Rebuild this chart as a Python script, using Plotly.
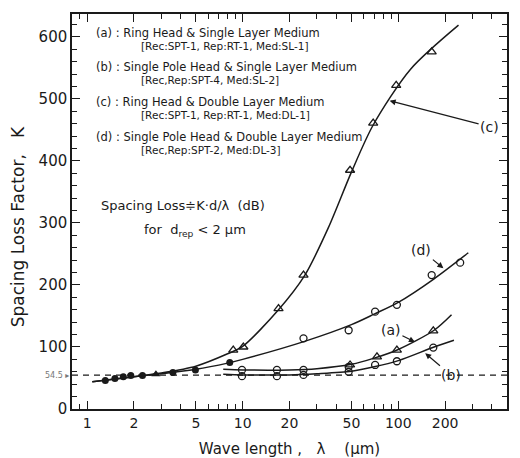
import plotly.graph_objects as go
import numpy as np

# ---- data ----
# common points (filled) at short wavelengths
common_lam = [1.31, 1.51, 1.71, 1.91, 2.27, 3.56, 4.97, 8.26]
common_K = [46, 49, 52, 54, 54, 59, 63, 75]
common_tri_lam = [2.77]
common_tri_K = [56]

# (c) ring head & double layer: triangles
c_lam = [8.7, 10.1, 17.0, 24.6, 49, 69, 97, 164]
c_K = [95, 100, 162, 216, 385, 461, 522, 576]
# (c) fitted curve
c_curve_lam = [1.08, 2, 3, 5, 8, 10, 17, 25, 35.5, 50, 69, 120, 244]
c_curve_K = [44, 52, 58, 69, 89, 101, 160, 215, 292, 382, 458, 548, 619]

# (d) single pole head & double layer: open circles
d_lam = [24.6, 48, 71, 98, 164, 250]
d_K = [114, 127, 157, 168, 216, 236]
d_curve_lam = [1.08, 2, 3, 5, 8, 10, 25, 50, 70, 100, 170, 282]
d_curve_K = [44, 52, 57, 64, 74, 80, 109, 136, 153, 172, 210, 252]

# (a) ring head & single layer: circles (low) + triangles
a_circ_lam = [9.9, 16.6, 24.6, 48]
a_circ_K = [63, 63, 63, 68]
a_tri_lam = [49, 73, 98, 168]
a_tri_K = [71, 84, 95, 126]
a_curve_lam = [7.5, 10, 20, 30, 50, 70, 100, 170, 220]
a_curve_K = [64, 63, 63, 65, 72, 82, 96, 127, 152]

# (b) single pole head & single layer: circles
b_lam = [9.9, 16.6, 24.6, 48, 71, 98, 168]
b_K = [53, 53, 55, 60, 71, 77, 99]
b_curve_lam = [7.5, 10, 20, 30, 50, 70, 100, 170, 228]
b_curve_K = [56, 55, 55, 57, 61, 68, 78, 100, 111]

ref_K = 54.5

x_ticks = [1, 2, 5, 10, 20, 50, 100, 200, 500]
x_minor = [0.9, 3, 4, 6, 7, 8, 9, 30, 40, 60, 70, 80, 90, 300, 400]
y_ticks = [0, 100, 200, 300, 400, 500, 600]

FONT = "DejaVu Sans"
INK = "#1a1a1a"

fig = go.Figure()

line = dict(color=INK, width=1.5)

def curve(xs, ys, dash=None):
    l = dict(line)
    if dash:
        l["dash"] = dash
    fig.add_trace(go.Scatter(x=xs, y=ys, mode="lines", line=dict(**l, shape="spline", smoothing=0.8),
                             showlegend=False, hoverinfo="skip"))

# reference dashed line
fig.add_trace(go.Scatter(x=[0.8, 500], y=[ref_K, ref_K], mode="lines",
                         line=dict(color=INK, width=1.2, dash="6px,5px"), showlegend=False))

curve(c_curve_lam, c_curve_K)
curve(d_curve_lam, d_curve_K)
curve(a_curve_lam, a_curve_K)
curve(b_curve_lam, b_curve_K)

open_c = dict(symbol="circle-open", size=7, color=INK, line=dict(width=1.3, color=INK))
open_t = dict(symbol="triangle-up-open", size=8, color=INK, line=dict(width=1.3, color=INK))

fig.add_trace(go.Scatter(x=common_lam, y=common_K, mode="markers",
                         marker=dict(symbol="circle", size=7, color=INK), showlegend=False))
fig.add_trace(go.Scatter(x=common_tri_lam, y=common_tri_K, mode="markers",
                         marker=dict(symbol="triangle-up", size=8, color=INK), showlegend=False))
fig.add_trace(go.Scatter(x=c_lam, y=c_K, mode="markers", marker=open_t, showlegend=False))
fig.add_trace(go.Scatter(x=d_lam, y=d_K, mode="markers", marker=open_c, showlegend=False))
fig.add_trace(go.Scatter(x=a_circ_lam, y=a_circ_K, mode="markers", marker=open_c, showlegend=False))
fig.add_trace(go.Scatter(x=a_tri_lam, y=a_tri_K, mode="markers", marker=open_t, showlegend=False))
fig.add_trace(go.Scatter(x=b_lam, y=b_K, mode="markers", marker=open_c, showlegend=False))

ann = []
# legend-like text block
legend_lines = [
    ("(a) : Ring Head & Single Layer Medium", 0.050, 0.952, 11.5),
    ("[Rec:SPT-1, Rep:RT-1, Med:SL-1]", 0.155, 0.919, 10.5),
    ("(b) : Single Pole Head & Single Layer Medium", 0.050, 0.866, 11.5),
    ("[Rec,Rep:SPT-4, Med:SL-2]", 0.155, 0.833, 10.5),
    ("(c) : Ring Head & Double Layer Medium", 0.050, 0.777, 11.5),
    ("[Rec:SPT-1, Rep:RT-1, Med:DL-1]", 0.155, 0.744, 10.5),
    ("(d) : Single Pole Head & Double Layer Medium", 0.050, 0.689, 11.5),
    ("[Rec,Rep:SPT-2, Med:DL-3]", 0.155, 0.656, 10.5),
]
for t, px, py, fs in legend_lines:
    ann.append(dict(text=t, x=px, y=py, xref="paper", yref="paper", xanchor="left", yanchor="middle",
                    showarrow=False, font=dict(family=FONT, size=fs, color=INK)))

ann.append(dict(text="Spacing Loss≑K·d/λ  (dB)", x=0.062, y=0.516, xref="paper", yref="paper",
                xanchor="left", yanchor="middle", showarrow=False,
                font=dict(family=FONT, size=13, color=INK)))
ann.append(dict(text="for  d<sub>rep</sub> < 2 μm", x=0.16, y=0.453, xref="paper", yref="paper",
                xanchor="left", yanchor="middle", showarrow=False,
                font=dict(family=FONT, size=13, color=INK)))

# curve labels with arrows
arrow = dict(showarrow=True, arrowhead=2, arrowsize=1, arrowwidth=1.2, arrowcolor=INK,
             font=dict(family=FONT, size=14, color=INK))
ann.append(dict(text="(c)", x=np.log10(88), y=497, ax=100, ay=26, **arrow))
ann.append(dict(text="(d)", x=np.log10(195), y=227, ax=-22, ay=-18, **arrow))
ann.append(dict(text="(a)", x=np.log10(128), y=108, ax=-24, ay=-12, **arrow))
ann.append(dict(text="(b)", x=np.log10(149), y=90, ax=26, ay=22, **arrow))

ann.append(dict(text="54.5 ▸", x=0, y=ref_K, xref="paper", yref="y", xanchor="right", yanchor="middle",
                xshift=-1, showarrow=False, font=dict(family=FONT, size=8, color="#777")))

# y axis title placed as rotated annotation
ann.append(dict(text="Spacing Loss Factor,   K", x=-0.124, y=0.46, xref="paper", yref="paper",
                textangle=-90, xanchor="center", yanchor="middle", showarrow=False,
                font=dict(family=FONT, size=17, color=INK)))

fig.update_layout(
    width=520, height=458,
    margin=dict(l=72, r=13, t=14, b=49),
    paper_bgcolor="white", plot_bgcolor="white",
    font=dict(family=FONT, color=INK),
    annotations=ann,
    xaxis=dict(type="log", range=[np.log10(0.8), np.log10(500)], automargin=False,
               tickmode="array", tickvals=x_ticks, ticktext=[str(v) for v in x_ticks],
               ticks="inside", ticklen=8, tickwidth=1.3, tickcolor=INK,
               minor=dict(tickmode="array", tickvals=x_minor, ticks="inside", ticklen=5,
                          tickwidth=1.2, tickcolor=INK, showgrid=False),
               showline=True, linecolor=INK, linewidth=1.5, mirror="allticks",
               showgrid=False, zeroline=False,
               tickfont=dict(family=FONT, size=14, color=INK),
               title=dict(text="Wave length ,   λ    (μm)", standoff=14,
                          font=dict(family=FONT, size=15, color=INK))),
    yaxis=dict(range=[0, 637], tickmode="array", tickvals=y_ticks, automargin=False,
               ticks="inside", ticklen=8, tickwidth=1.3, tickcolor=INK,
               minor=dict(dtick=20, tick0=0, ticks="inside", ticklen=5, tickwidth=1.2,
                          tickcolor=INK, showgrid=False),
               showline=True, linecolor=INK, linewidth=1.5, mirror="allticks",
               showgrid=False, zeroline=False,
               tickfont=dict(family=FONT, size=15, color=INK)),
)

fig.write_html("out.html")
